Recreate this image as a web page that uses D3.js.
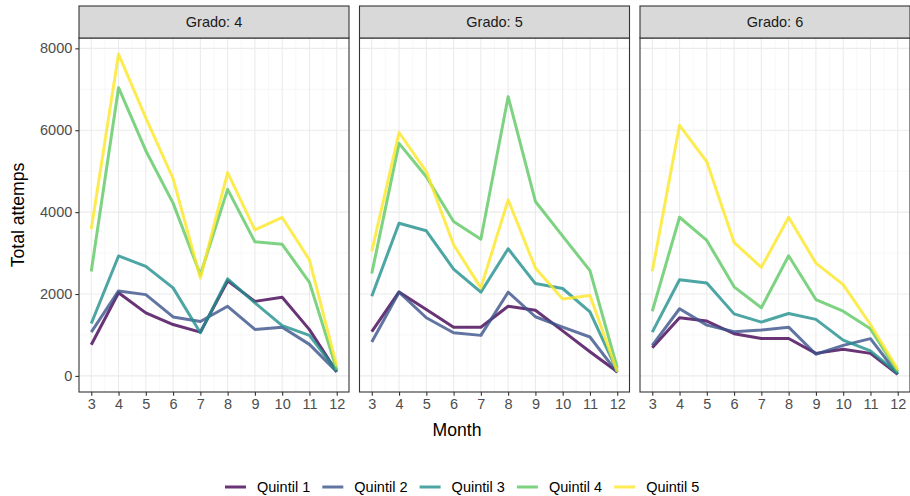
<!DOCTYPE html>
<html>
<head>
<meta charset="utf-8">
<script src="https://cdn.jsdelivr.net/npm/d3@7"></script>
<style>
body { margin: 0; background: #fff; }
text { font-family: "Liberation Sans", Arial, sans-serif; }
</style>
</head>
<body>
<svg id="chart" width="910" height="496"></svg>
<script>
// Data
var months = [3, 4, 5, 6, 7, 8, 9, 10, 11, 12];
var grades = ["Grado: 4", "Grado: 5", "Grado: 6"];
var quintiles = ["Quintil 1", "Quintil 2", "Quintil 3", "Quintil 4", "Quintil 5"];
var colors = ["#440154", "#3B528B", "#21908C", "#5DC863", "#FDE725"];
var y_ticks = [0, 2000, 4000, 6000, 8000];

var grado4 = [
    [760, 2030, 1540, 1255, 1070, 2320, 1820, 1920, 1130, 100],
    [1070, 2075, 1985, 1440, 1330, 1700, 1135, 1190, 770, 100],
    [1280, 2930, 2675, 2150, 1055, 2370, 1785, 1230, 990, 120],
    [2550, 7040, 5500, 4220, 2470, 4555, 3275, 3215, 2285, 150],
    [3590, 7860, 6300, 4820, 2390, 4965, 3565, 3870, 2835, 240]
];
var grado5 = [
    [1080, 2050, 1620, 1190, 1190, 1700, 1605, 1100, 590, 100],
    [830, 2045, 1420, 1055, 990, 2045, 1445, 1190, 950, 80],
    [1945, 3730, 3545, 2610, 2045, 3105, 2255, 2135, 1565, 120],
    [2500, 5680, 4865, 3770, 3340, 6820, 4260, 3415, 2570, 200],
    [3040, 5945, 4990, 3205, 2150, 4300, 2635, 1880, 1965, 100]
];
var grado6 = [
    [690, 1420, 1340, 1030, 915, 915, 550, 650, 550, 40],
    [745, 1640, 1240, 1080, 1120, 1190, 530, 745, 910, 40],
    [1070, 2350, 2270, 1515, 1315, 1525, 1380, 875, 610, 65],
    [1580, 3875, 3310, 2175, 1665, 2935, 1865, 1580, 1150, 100],
    [2555, 6120, 5230, 3260, 2650, 3875, 2755, 2230, 1255, 160]
];
var series = [grado4, grado5, grado6];

// Layout
var panel_left = [79, 359.5, 640];
var panel_width = 270;
var strip_top = 6;
var strip_height = 32;
var panel_top = strip_top + strip_height;
var panel_bottom = 392;
var text_size = 14.5;
var title_size = 17.6;

var svg = d3.select("#chart");

var x_scale = d3.scaleLinear().domain([2.55, 12.45]).range([0, panel_width]);
var y_scale = d3.scaleLinear().domain([-393, 8253]).range([panel_bottom, panel_top]);

var minor_x = d3.range(3.5, 12, 1);
var minor_y = [1000, 3000, 5000, 7000];

var line = d3.line()
    .x((d, i) => x_scale(months[i]))
    .y(d => y_scale(d));

grades.forEach(function(grade, p) {
    var g = svg.append("g").attr("transform", "translate(" + panel_left[p] + ",0)");

    // Grid
    g.selectAll(".minor-x").data(minor_x).enter().append("line")
        .attr("x1", d => x_scale(d)).attr("x2", d => x_scale(d))
        .attr("y1", panel_top).attr("y2", panel_bottom)
        .attr("stroke", "#f2f2f2").attr("stroke-width", 0.55);
    g.selectAll(".minor-y").data(minor_y).enter().append("line")
        .attr("x1", 0).attr("x2", panel_width)
        .attr("y1", d => y_scale(d)).attr("y2", d => y_scale(d))
        .attr("stroke", "#f2f2f2").attr("stroke-width", 0.55);
    g.selectAll(".major-x").data(months).enter().append("line")
        .attr("x1", d => x_scale(d)).attr("x2", d => x_scale(d))
        .attr("y1", panel_top).attr("y2", panel_bottom)
        .attr("stroke", "#ebebeb").attr("stroke-width", 1.1);
    g.selectAll(".major-y").data(y_ticks).enter().append("line")
        .attr("x1", 0).attr("x2", panel_width)
        .attr("y1", d => y_scale(d)).attr("y2", d => y_scale(d))
        .attr("stroke", "#ebebeb").attr("stroke-width", 1.1);

    // Lines
    series[p].forEach(function(vals, q) {
        g.append("path")
            .datum(vals)
            .attr("d", line)
            .attr("fill", "none")
            .attr("stroke", colors[q])
            .attr("stroke-opacity", 0.8)
            .attr("stroke-width", 3)
            .attr("stroke-linejoin", "round");
    });

    // Panel border
    g.append("rect")
        .attr("x", 0).attr("y", panel_top)
        .attr("width", panel_width).attr("height", panel_bottom - panel_top)
        .attr("fill", "none").attr("stroke", "#333333").attr("stroke-width", 1.1);

    // Strip
    g.append("rect")
        .attr("x", 0).attr("y", strip_top)
        .attr("width", panel_width).attr("height", strip_height)
        .attr("fill", "#d9d9d9").attr("stroke", "#333333").attr("stroke-width", 1.1);
    g.append("text")
        .attr("x", panel_width / 2).attr("y", strip_top + strip_height / 2)
        .attr("text-anchor", "middle").attr("dominant-baseline", "central")
        .attr("font-size", text_size).attr("fill", "#1a1a1a")
        .text(grade);

    // X axis
    var xa = g.append("g")
        .attr("transform", "translate(0," + panel_bottom + ")")
        .call(d3.axisBottom(x_scale).tickValues(months).tickSize(3.7).tickPadding(3).tickSizeOuter(0));
    xa.attr("font-size", null).attr("font-family", null);
    xa.select(".domain").remove();
    xa.selectAll("line").attr("stroke", "#333333").attr("stroke-width", 1.1);
    xa.selectAll("text").attr("font-size", text_size).attr("fill", "#4d4d4d");

    // Y axis (first panel only)
    if (p === 0) {
        var ya = g.append("g")
            .call(d3.axisLeft(y_scale).tickValues(y_ticks).tickFormat(d3.format("d")).tickSize(3.7).tickPadding(3));
        ya.attr("font-size", null).attr("font-family", null);
        ya.select(".domain").remove();
        ya.selectAll("line").attr("stroke", "#333333").attr("stroke-width", 1.1);
        ya.selectAll("text").attr("font-size", text_size).attr("fill", "#4d4d4d");
    }
});

// Axis titles
svg.append("text")
    .attr("x", 457).attr("y", 430)
    .attr("text-anchor", "middle").attr("dominant-baseline", "central")
    .attr("font-size", title_size).attr("fill", "#000")
    .text("Month");
svg.append("text")
    .attr("transform", "translate(18," + ((panel_top + panel_bottom) / 2) + ") rotate(-90)")
    .attr("text-anchor", "middle").attr("dominant-baseline", "central")
    .attr("font-size", title_size).attr("fill", "#000")
    .text("Total attemps");

// Legend
var legend = svg.append("g").attr("transform", "translate(225,487)");
var item = legend.selectAll(".item").data(quintiles).enter().append("g")
    .attr("transform", (d, i) => "translate(" + (i * 97.3) + ",0)");
item.append("line")
    .attr("x1", 0).attr("x2", 21).attr("y1", 0).attr("y2", 0)
    .attr("stroke", (d, i) => colors[i]).attr("stroke-opacity", 0.8).attr("stroke-width", 3);
item.append("text")
    .attr("x", 32).attr("y", 0).attr("dominant-baseline", "central")
    .attr("font-size", text_size).attr("fill", "#000")
    .text(d => d);
</script>
</body>
</html>
